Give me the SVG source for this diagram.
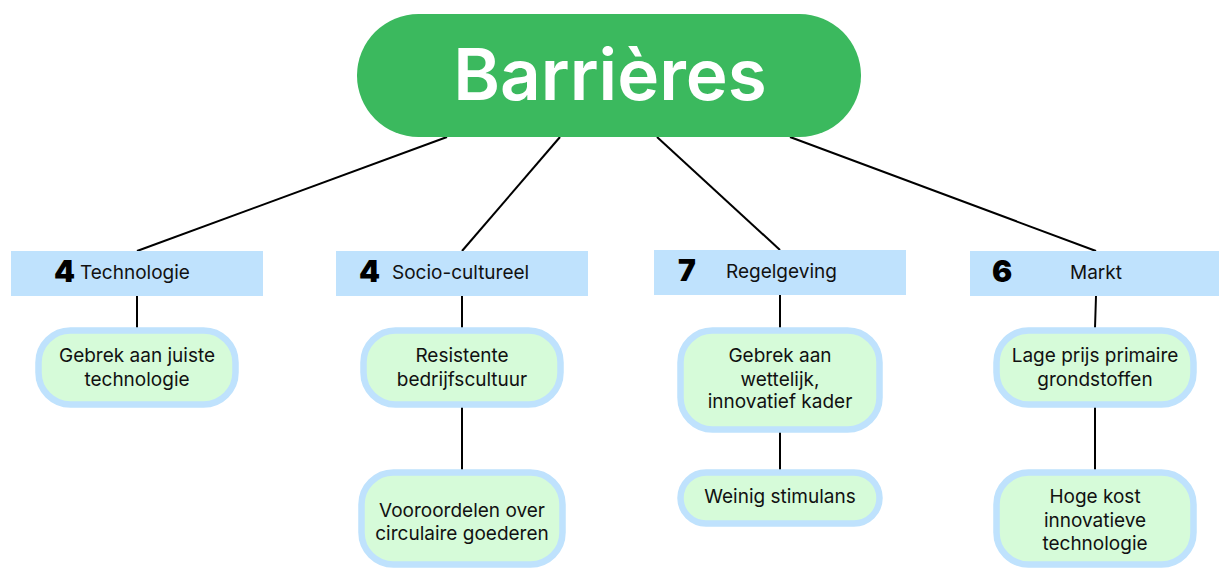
<svg xmlns="http://www.w3.org/2000/svg" width="1219" height="570" viewBox="0 0 1219 570">
<style>
.bar{fill:#bfe2fd}
.leaf{fill:#d6fbd9;stroke:#bfe2fd;stroke-width:6.5}
.num{font-family:Inter,"Liberation Sans",sans-serif;font-weight:900;font-size:30px;fill:#000}
.cat{font-family:Inter,"Noto Sans",sans-serif;font-size:19px;fill:#111}
.lt{font-family:Inter,"Noto Sans",sans-serif;font-size:19px;fill:#111;text-anchor:middle}
.con line{stroke:#000;stroke-width:2}
</style>
<rect width="1219" height="570" fill="#fff"/>
<g class="con">
<line x1="447" y1="137" x2="137" y2="251"/>
<line x1="560" y1="137" x2="462" y2="251"/>
<line x1="657" y1="137" x2="780" y2="250"/>
<line x1="790" y1="137" x2="1096" y2="251"/>
<line x1="137" y1="296" x2="137" y2="328"/>
<line x1="462" y1="296" x2="462" y2="328"/>
<line x1="462" y1="407" x2="462" y2="470"/>
<line x1="780" y1="295" x2="780" y2="328"/>
<line x1="780" y1="432" x2="780" y2="470"/>
<line x1="1096" y1="296" x2="1095" y2="328"/>
<line x1="1095" y1="407" x2="1095" y2="470"/>
</g>
<g id="title">
<rect x="357" y="14" width="504" height="123" rx="61.5" fill="#3bb95e"/>
<text x="610" y="100" text-anchor="middle" font-family="Inter,'Liberation Sans',sans-serif" font-weight="600" font-size="71" fill="#fff">Barrières</text>
</g>
<g id="cat-technologie">
<rect class="bar" x="11" y="251" width="252" height="45"/>
<text class="num" x="54" y="282">4</text>
<text class="cat" x="80" y="279">Technologie</text>
</g>
<g id="cat-socio">
<rect class="bar" x="336" y="251" width="252" height="45"/>
<text class="num" x="359" y="282">4</text>
<text class="cat" x="392" y="279">Socio-cultureel</text>
</g>
<g id="cat-regelgeving">
<rect class="bar" x="654" y="250" width="252" height="45"/>
<text class="num" x="678" y="281">7</text>
<text class="cat" x="726" y="278">Regelgeving</text>
</g>
<g id="cat-markt">
<rect class="bar" x="970" y="251" width="252" height="45"/>
<text class="num" x="992" y="282">6</text>
<text class="cat" x="1070" y="279">Markt</text>
</g>
<g id="leaf-tech1">
<rect class="leaf" x="38.5" y="330.5" width="197" height="74" rx="32"/>
<text class="lt" x="137" y="362">Gebrek aan juiste</text>
<text class="lt" x="137" y="386">technologie</text>
</g>
<g id="leaf-socio1">
<rect class="leaf" x="363.5" y="330.5" width="197" height="74" rx="32"/>
<text class="lt" x="462" y="362">Resistente</text>
<text class="lt" x="462" y="386">bedrijfscultuur</text>
</g>
<g id="leaf-socio2">
<rect class="leaf" x="361.5" y="472.5" width="201" height="92" rx="32"/>
<text class="lt" x="462" y="517">Vooroordelen over</text>
<text class="lt" x="462" y="540">circulaire goederen</text>
</g>
<g id="leaf-regel1">
<rect class="leaf" x="680.5" y="330.5" width="199" height="99" rx="32"/>
<text class="lt" x="780" y="362">Gebrek aan</text>
<text class="lt" x="780" y="386">wettelijk,</text>
<text class="lt" x="780" y="408">innovatief kader</text>
</g>
<g id="leaf-regel2">
<rect class="leaf" x="680.5" y="472.5" width="199" height="51" rx="25.5"/>
<text class="lt" x="780" y="503">Weinig stimulans</text>
</g>
<g id="leaf-markt1">
<rect class="leaf" x="996.5" y="330.5" width="197" height="74" rx="32"/>
<text class="lt" x="1095" y="362">Lage prijs primaire</text>
<text class="lt" x="1095" y="386">grondstoffen</text>
</g>
<g id="leaf-markt2">
<rect class="leaf" x="996.5" y="472.5" width="197" height="92" rx="32"/>
<text class="lt" x="1095" y="503">Hoge kost</text>
<text class="lt" x="1095" y="527">innovatieve</text>
<text class="lt" x="1095" y="550">technologie</text>
</g>
</svg>
